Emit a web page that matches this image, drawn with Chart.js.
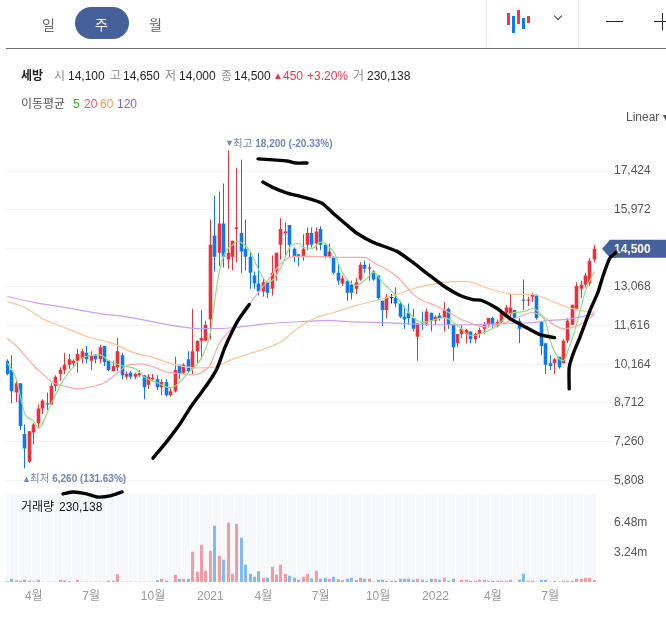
<!DOCTYPE html>
<html>
<head>
<meta charset="utf-8">
<title>세방 주봉</title>
<script src="https://cdn.jsdelivr.net/npm/chart.js@4"></script>
<style>
html, body { margin: 0; padding: 0; background: #fff; overflow: hidden; }
body { position: relative; width: 666px; height: 621px; font-family: "Liberation Sans", "Noto Sans CJK KR", sans-serif; font-size: 12px; }
canvas { position: absolute; left: 0; top: 0; }
.t { position: absolute; white-space: nowrap; line-height: 14px; }
.g { color: #8a8a8a; }
.k { color: #222; }
.r { color: #f0324b; }
.box { position: absolute; }
</style>
</head>
<body>
<canvas id="chart" width="666" height="621"></canvas>

<div class="box" style="left:6px;top:48px;width:660px;height:1px;background:#6f6f6f"></div>
<div class="box" style="left:486px;top:0;width:1px;height:48px;background:#e9edf5"></div>
<div class="box" style="left:578px;top:0;width:1px;height:48px;background:#e9edf5"></div>

<div class="t" style="left:42px;top:17px;font-size:14px;color:#666;line-height:16px">일</div>
<div class="box" style="left:75px;top:7px;width:54px;height:32px;border-radius:16px;background:#45609a"></div>
<div class="t" style="left:95px;top:17px;font-size:14px;color:#fff;line-height:16px">주</div>
<div class="t" style="left:149px;top:17px;font-size:14px;color:#666;line-height:16px">월</div>

<div class="box" style="left:507px;top:13px;width:3px;height:12px;background:#ee3b3f"></div>
<div class="box" style="left:512px;top:16px;width:3px;height:17px;background:#0a7cf0"></div>
<div class="box" style="left:517px;top:10px;width:3px;height:14px;background:#ee3b3f"></div>
<div class="box" style="left:522px;top:18px;width:3px;height:11px;background:#0a7cf0"></div>
<div class="box" style="left:527px;top:16px;width:3px;height:7px;background:#ee3b3f"></div>
<div class="box" style="left:555px;top:13px;width:5px;height:5px;border-right:1px solid #444;border-bottom:1px solid #444;transform:rotate(45deg)"></div>
<div class="box" style="left:606px;top:21px;width:17px;height:1px;background:#222"></div>
<div class="box" style="left:654px;top:21px;width:12px;height:1px;background:#222"></div>
<div class="box" style="left:662px;top:13px;width:1px;height:17px;background:#222"></div>

<div class="t" style="left:21px;top:69px;font-weight:bold;color:#222">세방</div>
<div class="t g" style="left:54px;top:69px">시</div><div class="t k" style="left:68px;top:69px">14,100</div>
<div class="t g" style="left:110px;top:69px">고</div><div class="t k" style="left:123px;top:69px">14,650</div>
<div class="t g" style="left:165px;top:69px">저</div><div class="t k" style="left:179px;top:69px">14,000</div>
<div class="t g" style="left:221px;top:69px">종</div><div class="t k" style="left:234px;top:69px">14,500</div>
<div class="t r" style="left:273px;top:69px;font-size:10px">▲</div><div class="t r" style="left:283px;top:69px">450</div>
<div class="t r" style="left:307px;top:69px">+3.20%</div>
<div class="t g" style="left:353px;top:69px">거</div><div class="t k" style="left:367px;top:69px">230,138</div>

<div class="t" style="left:21px;top:97px;color:#555">이동평균</div>
<div class="t" style="left:73px;top:97px;color:#35b81e">5</div>
<div class="t" style="left:84px;top:97px;color:#f7536a">20</div>
<div class="t" style="left:100px;top:97px;color:#f6994a">60</div>
<div class="t" style="left:117px;top:97px;color:#8a5cf6">120</div>

<div class="t" style="left:626px;top:110px;color:#555">Linear ▾</div>
<div class="t" style="left:21px;top:500px;color:#111">거래량</div>
<div class="t" style="left:59px;top:500px;color:#111">230,138</div>

<script>
// weekly candles, red = up, blue = down
var opens = [
    10300, 9950, 9100, 9450, 7550, 6500, 7600, 7950, 8500, 8700,
    8650, 9350, 9800, 9950, 10150, 10200, 10300, 10400, 10600, 10300,
    10500, 10350, 10850, 10300, 9900, 10050, 10500, 9700, 9850, 9700,
    9750, 9750, 9400, 9600, 9600, 9300, 9500, 9000, 9150, 10150,
    9850, 10350, 10000, 10650, 11050, 11050, 11850, 15000, 14350, 15450,
    14100, 14200, 15250, 15100, 14500, 14200, 13500, 13200, 12900, 13250,
    13000, 13650, 14650, 15100, 15400, 14500, 14300, 14200, 14650, 15100,
    14700, 15250, 14650, 14200, 14200, 13600, 13200, 13300, 13150, 13000,
    13350, 13900, 13750, 13650, 13500, 12550, 12200, 12650, 12650, 12450,
    11950, 12100, 11900, 11200, 11700, 11700, 12100, 11800, 12000, 11900,
    12250, 11650, 10950, 11300, 11300, 11400, 11100, 11300, 11500, 11650,
    11900, 11600, 11750, 12100, 12050, 12200, 11800, 12600, 12550, 12700,
    12750, 11750, 10950, 10200, 10200, 10450, 10200, 11050, 11650, 12250,
    13000, 13150, 13200, 14100
];
var closes = [
    9800, 9150, 9450, 7850, 7000, 7650, 7900, 8500, 8800, 8650,
    9350, 9700, 9950, 10150, 10350, 10300, 10550, 10650, 10350, 10500,
    10350, 10800, 10250, 9950, 10100, 10650, 9750, 9800, 9700, 9800,
    9850, 9300, 9700, 9650, 9300, 9500, 9000, 9150, 9950, 9800,
    10150, 9900, 10650, 11050, 11150, 11650, 14650, 14200, 15450, 14200,
    14350, 14800, 15300, 14400, 14200, 13600, 13200, 12900, 13250, 12850,
    13600, 14350, 15250, 15150, 14650, 14200, 14200, 14500, 15100, 14650,
    15150, 14650, 14200, 14400, 13600, 13300, 13400, 12850, 12850, 13250,
    13900, 13750, 13800, 13350, 12650, 12200, 12650, 12650, 12450, 11950,
    11850, 11900, 11500, 11700, 11650, 12150, 11800, 11950, 11900, 12200,
    11650, 10800, 11300, 11500, 11450, 11100, 11300, 11450, 11650, 11900,
    11650, 11750, 12100, 12300, 12300, 11900, 11500, 12550, 12600, 12800,
    11900, 10850, 10150, 10100, 10350, 10050, 11050, 11800, 12400, 13100,
    13150, 13500, 14050, 14500
];
var highs = [
    10350, 10500, 9550, 9450, 7900, 7650, 7950, 8650, 8850, 9100,
    9450, 9750, 10050, 10600, 10550, 10350, 10750, 10750, 10850, 10650,
    10550, 10900, 10850, 10300, 10300, 11150, 10600, 9900, 9900, 9850,
    9950, 9750, 9800, 9800, 9750, 9600, 9600, 9300, 10450, 10150,
    10200, 10650, 12250, 11050, 12200, 11800, 15600, 16500, 16650, 16950,
    18200, 14800, 17550, 17850, 15600, 14400, 13650, 14350, 13400, 13250,
    14250, 14350, 15650, 15500, 15400, 14550, 14300, 15050, 15300, 15300,
    15300, 15350, 14700, 14700, 14200, 13950, 13500, 13350, 13300, 13400,
    14000, 14050, 13950, 13700, 13500, 12550, 12800, 12800, 13050, 12550,
    12350, 12450, 12250, 11700, 12150, 12250, 12100, 12000, 12100, 12500,
    12300, 11650, 11300, 11650, 11500, 11400, 11350, 11550, 11750, 11900,
    11950, 11850, 12200, 12400, 12800, 12200, 11900, 13350, 12700, 12850,
    12800, 11750, 10950, 10500, 10400, 10450, 11100, 11900, 12400, 13250,
    13300, 13600, 14150, 14650
];
var lows = [
    9750, 8700, 8750, 7700, 6260, 6450, 7150, 7750, 8300, 8450,
    8650, 9150, 9550, 9800, 10000, 10050, 9850, 10200, 10200, 9950,
    10200, 10200, 10100, 9900, 9900, 9900, 9600, 9600, 9600, 9600,
    9700, 8850, 9250, 9550, 9200, 9000, 8950, 8950, 9100, 9600,
    9800, 9850, 9800, 10200, 10350, 11050, 11100, 13650, 13850, 13800,
    13750, 13700, 14000, 13600, 13700, 13000, 13000, 12750, 12700, 12650,
    12750, 13300, 14100, 14250, 14200, 14000, 13850, 14050, 14450, 14550,
    14450, 14450, 14150, 14150, 13550, 13150, 13100, 12550, 12600, 12800,
    13300, 13600, 13300, 13300, 12600, 11600, 11900, 12450, 12300, 11900,
    11500, 11650, 11400, 10300, 11450, 11600, 11400, 11650, 11800, 11400,
    11500, 10300, 10800, 11150, 10950, 10950, 10950, 11150, 11300, 11550,
    11500, 11550, 11700, 12000, 11900, 11850, 10950, 12200, 12350, 12500,
    11850, 10500, 9800, 9950, 9800, 10000, 10200, 10950, 11650, 12250,
    12650, 13050, 13100, 14000
];
// volume in thousands of shares
var volumes = [
    73, 366, 183, 146, 256, 146, 73, 256, 37, 37,
    37, 37, 256, 183, 73, 37, 256, 37, 37, 37,
    37, 37, 37, 146, 146, 842, 37, 37, 37, 37,
    37, 37, 20, 37, 183, 366, 146, 37, 805, 366,
    366, 366, 3331, 1135, 4099, 1244, 3440, 6185, 2891, 2452,
    6515, 915, 6405, 4868, 1903, 915, 586, 1171, 476, 476,
    1684, 805, 1903, 915, 695, 476, 256, 586, 915, 403,
    1244, 366, 476, 366, 586, 293, 220, 366, 476, 256,
    476, 366, 366, 37, 256, 256, 146, 146, 146, 366,
    366, 366, 256, 366, 256, 146, 366, 366, 256, 476,
    146, 366, 37, 256, 256, 146, 146, 256, 256, 146,
    146, 146, 146, 146, 256, 37, 256, 915, 146, 146,
    37, 256, 256, 37, 146, 37, 146, 146, 146, 366,
    366, 476, 476, 230
];

// moving averages at these weeks
var ma5Weeks = [0, 2, 4, 6, 7, 10, 13, 15, 17, 21, 23, 26, 29, 31, 34, 37, 41, 44, 46, 47, 48, 49, 50, 51, 52, 55, 57, 59, 60, 62, 64, 65, 66, 67, 69, 71, 73, 74, 76, 79, 81, 83, 85, 88, 90, 92, 94, 96, 99, 102, 105, 108, 111, 114, 117, 119, 120, 122, 123, 125, 126, 127, 128, 130, 131, 132, 133];
var ma5 = [10220, 9620, 8300, 8030, 7770, 8710, 9660, 10070, 10410, 10520, 10300, 10110, 10000, 9690, 9470, 9280, 9840, 10410, 11350, 12560, 13620, 14220, 14520, 14630, 14780, 14410, 13690, 13240, 13310, 13800, 14560, 14670, 14710, 14560, 14520, 14750, 14560, 14370, 13580, 13130, 13310, 13620, 13240, 12750, 12300, 11920, 11730, 11800, 11920, 11620, 11240, 11350, 11620, 12070, 12140, 12260, 12180, 11730, 11050, 10370, 10300, 10670, 11130, 12300, 12940, 13310, 13650];
var ma20Weeks = [0, 2, 4, 6, 8, 10, 13, 16, 19, 22, 25, 27, 30, 33, 36, 39, 42, 45, 46, 47, 48, 51, 53, 56, 59, 62, 65, 70, 75, 81, 83, 87, 89, 92, 94, 97, 100, 103, 104, 108, 112, 116, 119, 122, 124, 126, 128, 130, 133];
var ma20 = [11130, 10860, 10490, 10110, 9810, 9510, 9350, 9240, 9320, 9470, 9840, 10110, 10180, 10070, 9880, 9810, 9770, 9960, 10150, 10560, 10940, 11540, 11990, 12670, 13310, 13950, 14220, 14220, 14180, 14180, 13990, 13620, 13350, 12790, 12560, 12370, 12110, 11840, 11770, 11580, 11690, 11960, 12110, 11880, 11620, 11500, 11540, 11690, 12030];
var ma60Weeks = [0, 4, 8, 13, 19, 24, 28, 34, 38, 43, 47, 51, 55, 59, 62, 66, 70, 74, 79, 86, 93, 99, 104, 109, 115, 119, 123, 127, 130, 133];
var ma60 = [12520, 12300, 11880, 11540, 11160, 10940, 10640, 10370, 10150, 10030, 10070, 10350, 10570, 10790, 11010, 11540, 11920, 12110, 12370, 12670, 13050, 13240, 13280, 13010, 12790, 12790, 12560, 12300, 12180, 12110];
var ma120Weeks = [0, 6, 13, 21, 28, 34, 39, 44, 48, 51, 59, 67, 73, 77, 85, 90, 97, 104, 112, 119, 123, 128, 133];
var ma120 = [12710, 12490, 12300, 12070, 11920, 11730, 11580, 11500, 11500, 11540, 11690, 11770, 11810, 11770, 11730, 11690, 11650, 11650, 11690, 11730, 11810, 11880, 12070];

// the hand drawn black strokes on the picture, as week / price pairs
var strokeHighWeeks = [56.8, 60.2, 63.4, 65.2, 67.9];
var strokeHigh = [17880, 17840, 17800, 17725, 17725];
var strokeFallWeeks = [57.9, 60, 63.4, 67, 71.3, 73.8, 77, 79.2, 82.9, 88.3, 91.9, 95.1, 98.7, 102.6, 105.5, 107.5, 111, 113.9, 116.8, 120.7, 124];
var strokeFall = [17010, 16820, 16595, 16445, 16215, 15840, 15385, 15085, 14745, 14405, 13990, 13575, 13125, 12750, 12595, 12560, 12260, 11880, 11615, 11275, 11165];
var strokeRiseWeeks = [33, 36.2, 39.1, 41.4, 43.7, 45.5, 47.5, 49.3, 51.6, 52.7, 54.8];
var strokeRise = [6640, 7280, 7920, 8525, 9050, 9460, 10000, 10800, 11615, 11920, 12410];
var strokeEndWeeks = [127.3, 127.3, 128.2, 129.7, 132, 133.8, 135, 136.5, 137.9];
var strokeEnd = [9240, 10035, 10560, 11165, 12180, 12860, 13500, 14145, 14370];
var strokeLowWeeks = [12.6, 14.9, 18, 20.3, 23.3, 26];
var strokeLow = [5295, 5370, 5295, 5180, 5220, 5370];

var priceTicks = [5808, 7260, 8712, 10164, 11616, 13068, 14520, 15972, 17424];
var volumeTicks = [3240, 6480];
var monthWeeks = [6, 19, 33, 46, 58, 71, 84, 97, 110, 123];
var monthLabels = ["4월", "7월", "10월", "2021", "4월", "7월", "10월", "2022", "4월", "7월"];

var RED = "#ee3039";
var BLUE = "#0b78ee";
var weeks = opens.map(function (v, i) { return i; });
var lastClose = closes[closes.length - 1];
var highWeek = highs.indexOf(18200);
var lowWeek = lows.indexOf(6260);

function candleColor(i) {
    if (opens[i] === closes[i]) return "#222";
    return closes[i] > opens[i] ? RED : BLUE;
}
function volumeColor(i) {
    return closes[i] >= opens[i] ? "#f59a9f" : "#7fbaf6";
}
function pairs(xs, ys) {
    return xs.map(function (x, i) { return { x: x, y: ys[i] }; });
}
function maLine(label, xs, ys, color) {
    return {
        type: "line", label: label, data: pairs(xs, ys), yAxisID: "y", order: 2,
        borderColor: color, borderWidth: 1.2, pointRadius: 0, cubicInterpolationMode: "monotone"
    };
}
function stroke(label, xs, ys) {
    return {
        type: "line", label: label, data: pairs(xs, ys), yAxisID: "y", order: 1, clip: false,
        borderColor: "#050505", borderWidth: 3.4, pointRadius: 0, tension: 0.2,
        borderCapStyle: "round", borderJoinStyle: "round"
    };
}

// snap the bars to whole pixels so 1px wicks stay crisp
var snapPlugin = {
    id: "snap",
    beforeDatasetsDraw: function (chart) {
        chart.data.datasets.forEach(function (ds, n) {
            var meta = chart.getDatasetMeta(n);
            if (meta.type !== "bar") return;
            meta.data.forEach(function (el) {
                el.x = ds.barThickness === 4 ? Math.round(el.x) : Math.floor(el.x) + 0.5;
            });
        });
    }
};

// current price flag and the high / low notes, tied to the price scale
var notesPlugin = {
    id: "notes",
    beforeDatasetsDraw: function (chart) {
        var ctx = chart.ctx, y = chart.scales.y, py = y.getPixelForValue(lastClose);
        ctx.save();
        ctx.fillStyle = "#45609a";
        ctx.beginPath();
        ctx.moveTo(602, py);
        ctx.lineTo(610, py - 9);
        ctx.lineTo(666, py - 9);
        ctx.lineTo(666, py + 9);
        ctx.lineTo(610, py + 9);
        ctx.closePath();
        ctx.fill();
        ctx.fillStyle = "#fff";
        ctx.font = "bold 12px 'Liberation Sans'";
        ctx.textBaseline = "middle";
        ctx.fillText("14,500", 614, py + 0.5);
        ctx.restore();
    },
    afterDatasetsDraw: function (chart) {
        var ctx = chart.ctx, x = chart.scales.x, y = chart.scales.y;
        function note(week, price, dy, mark, word, value) {
            var px = x.getPixelForValue(week) - 3, py = y.getPixelForValue(price) + dy;
            ctx.fillStyle = "#6d86bb";
            ctx.textBaseline = "middle";
            ctx.font = "9px 'Liberation Sans', 'Noto Sans CJK KR'";
            ctx.fillText(mark, px, py);
            ctx.font = "10.5px 'Liberation Sans', 'Noto Sans CJK KR'";
            ctx.fillText(word, px + 8, py);
            var w = ctx.measureText(word + " ").width;
            ctx.font = "bold 10px 'Liberation Sans', 'Noto Sans CJK KR'";
            ctx.fillText(value, px + 8 + w, py);
        }
        ctx.save();
        note(highWeek, 18200, -6.5, "▼", "최고", "18,200 (-20.33%)");
        note(lowWeek, 6260, 11, "▲", "최저", "6,260 (131.63%)");
        ctx.restore();
    }
};

new Chart(document.getElementById("chart"), {
    type: "bar",
    plugins: [snapPlugin, notesPlugin],
    data: {
        datasets: [
            maLine("MA5", ma5Weeks, ma5, "#8fe083"),
            maLine("MA20", ma20Weeks, ma20, "#fba8a8"),
            maLine("MA60", ma60Weeks, ma60, "#fcc496"),
            maLine("MA120", ma120Weeks, ma120, "#cb9ff9"),
            stroke("stroke1", strokeHighWeeks, strokeHigh),
            stroke("stroke2", strokeFallWeeks, strokeFall),
            stroke("stroke3", strokeRiseWeeks, strokeRise),
            stroke("stroke4", strokeEndWeeks, strokeEnd),
            stroke("stroke5", strokeLowWeeks, strokeLow),
            {
                label: "body", yAxisID: "y", order: 3, barThickness: 3.6, minBarLength: 1, inflateAmount: 0,
                data: weeks.map(function (i) { return { x: i, y: [opens[i], closes[i]] }; }),
                backgroundColor: weeks.map(candleColor)
            },
            {
                label: "wick", yAxisID: "y", order: 4, barThickness: 1, inflateAmount: 0,
                data: weeks.map(function (i) { return { x: i, y: [lows[i], highs[i]] }; }),
                backgroundColor: weeks.map(candleColor)
            },
            {
                label: "volume", yAxisID: "y2", order: 5, barThickness: 3, inflateAmount: 0,
                data: weeks.map(function (i) { return { x: i, y: volumes[i] }; }),
                backgroundColor: weeks.map(volumeColor)
            },
            {
                label: "stripes", yAxisID: "y2", order: 6, barThickness: 4, inflateAmount: 0,
                data: weeks.map(function (i) { return { x: i, y: 9720 }; }),
                backgroundColor: "#f6f8fd"
            }
        ]
    },
    options: {
        responsive: false,
        animation: false,
        events: [],
        datasets: { bar: { grouped: false } },
        layout: { padding: { left: 6, top: 130, right: 0, bottom: 0 } },
        plugins: { legend: { display: false }, tooltip: { enabled: false } },
        scales: {
            x: {
                type: "linear", offset: false, min: -0.3, max: 137,
                grid: { display: false, drawTicks: false, tickLength: 0 }, border: { display: false },
                afterBuildTicks: function (axis) {
                    axis.ticks = monthWeeks.map(function (w) { return { value: w }; });
                },
                afterFit: function (axis) { axis.height = 39; },
                ticks: {
                    autoSkip: false, maxRotation: 0, padding: 7, color: "#999",
                    font: { size: 12, family: "'Liberation Sans', 'Noto Sans CJK KR'" },
                    callback: function (v) { return monthLabels[monthWeeks.indexOf(v)]; }
                }
            },
            y: {
                position: "right", stack: "right", stackWeight: 363.5, weight: 0,
                min: 5311, max: 18964,
                grid: { color: "#f3f3f3", tickLength: 0 }, border: { display: false },
                afterBuildTicks: function (axis) {
                    axis.ticks = priceTicks.map(function (v) { return { value: v }; });
                },
                afterFit: function (axis) { axis.width = 54; },
                ticks: {
                    autoSkip: false, padding: 2, color: "#555",
                    font: { size: 12, family: "'Liberation Sans'" },
                    callback: function (v) { return v === 14520 ? "" : v.toLocaleString("en-US"); }
                }
            },
            y2: {
                position: "right", stack: "right", stackWeight: 88.5, weight: 1,
                min: 0, max: 9720,
                grid: { display: false, drawTicks: false, tickLength: 0 }, border: { display: false },
                afterBuildTicks: function (axis) {
                    axis.ticks = volumeTicks.map(function (v) { return { value: v }; });
                },
                afterFit: function (axis) { axis.width = 54; },
                ticks: {
                    autoSkip: false, padding: 2, color: "#555",
                    font: { size: 12, family: "'Liberation Sans'" },
                    callback: function (v) { return (v / 1000).toFixed(2) + "m"; }
                }
            }
        }
    }
});
</script>
</body>
</html>
